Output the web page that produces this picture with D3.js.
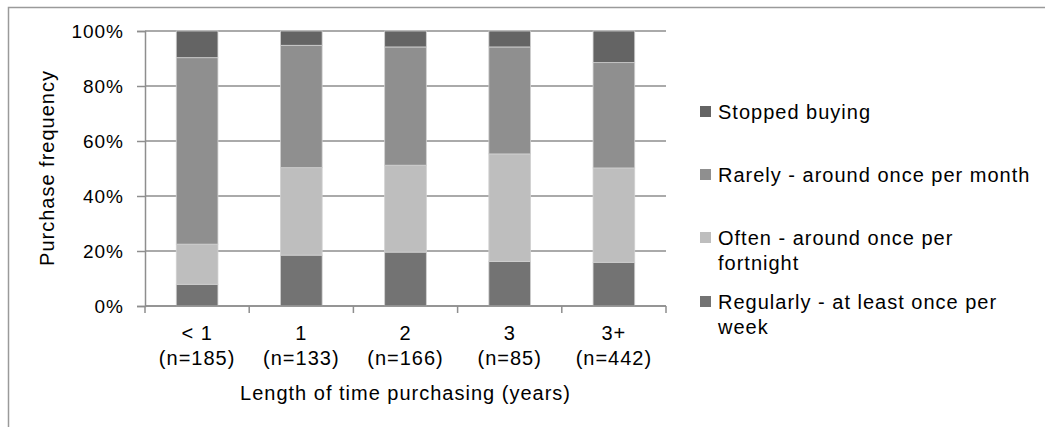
<!DOCTYPE html>
<meta charset="utf-8">
<script src="https://d3js.org/d3.v7.js"></script>
<style>
  body { margin: 0; background: #fff; }
  text { font-family: "Liberation Sans", Arial, sans-serif; fill: #000; letter-spacing: 1px; }
</style>
<div id="my_dataviz"></div>
<script>

// categories and sample sizes
var groups = ["< 1", "1", "2", "3", "3+"];
var sizes = ["(n=185)", "(n=133)", "(n=166)", "(n=85)", "(n=442)"];

// percentages per series (bottom to top)
var regularly = [7.9, 18.5, 19.6, 16.2, 15.9];
var often     = [14.6, 31.8, 31.6, 39.1, 34.3];
var rarely    = [67.8, 44.5, 43.0, 38.9, 38.3];
var stopped   = [9.7, 5.2, 5.8, 5.8, 11.5];

var seriesKeys = ["regularly", "often", "rarely", "stopped"];
var seriesNames = {
  regularly: ["Regularly - at least once per", "week"],
  often: ["Often - around once per", "fortnight"],
  rarely: ["Rarely - around once per month"],
  stopped: ["Stopped buying"]
};
var colors = {regularly: "#737373", often: "#bebebe", rarely: "#8f8f8f", stopped: "#646464"};

var yTicks = [0, 20, 40, 60, 80, 100];

var data = groups.map(function(g, i) {
  return {group: g, regularly: regularly[i], often: often[i], rarely: rarely[i], stopped: stopped[i]};
});

var W = 1045, H = 427;
var margin = {top: 31, left: 145};
var width = 521, height = 275;

var svg = d3.select("#my_dataviz")
  .append("svg")
    .attr("width", W)
    .attr("height", H);

// outer frame
svg.append("rect")
  .attr("x", 8.5).attr("y", 7.5)
  .attr("width", W).attr("height", H)
  .attr("fill", "none")
  .attr("stroke", "#9a9a9a")
  .attr("stroke-width", 1.5);

var g = svg.append("g")
  .attr("transform", "translate(" + margin.left + "," + margin.top + ")");

var x = d3.scaleBand()
  .domain(groups)
  .range([0, width])
  .paddingInner(0.6)
  .paddingOuter(0.3);

var y = d3.scaleLinear()
  .domain([0, 100])
  .range([height, 0]);

// gridlines
g.append("g")
  .selectAll("line")
  .data(yTicks)
  .enter()
  .append("line")
    .attr("x1", 0).attr("x2", width)
    .attr("y1", function(d) { return y(d); })
    .attr("y2", function(d) { return y(d); })
    .attr("stroke", "#8e8e8e")
    .attr("stroke-width", 1.5);

// stacked bars
var stack = d3.stack().keys(seriesKeys);
var layers = stack(data);

g.append("g")
  .selectAll("g")
  .data(layers)
  .enter()
  .append("g")
    .attr("fill", function(d) { return colors[d.key]; })
  .selectAll("rect")
  .data(function(d) { return d; })
  .enter()
  .append("rect")
    .attr("x", function(d) { return x(d.data.group); })
    .attr("y", function(d) { return y(d[1]); })
    .attr("width", x.bandwidth())
    .attr("height", function(d) { return y(d[0]) - y(d[1]); })
    .attr("stroke", "#d0d0d0")
    .attr("stroke-width", 0.8);

// y axis
var yAxis = g.append("g")
  .call(d3.axisLeft(y).tickValues(yTicks).tickSize(8).tickPadding(13)
    .tickFormat(function(d) { return d + "%"; }));
yAxis.select(".domain").attr("stroke", "#8e8e8e").attr("stroke-width", 1.5);
yAxis.selectAll(".tick line").attr("stroke", "#8e8e8e").attr("stroke-width", 1.5);
yAxis.selectAll("text").style("font-size", "19px").attr("fill", "#000")
  .style("font-family", "Liberation Sans, Arial, sans-serif");

// x axis: ticks at band boundaries
var xBounds = d3.range(groups.length + 1).map(function(i) { return i * width / groups.length; });
var xAxisG = g.append("g").attr("transform", "translate(0," + height + ")");
xAxisG.append("line")
  .attr("x1", 0).attr("x2", width)
  .attr("stroke", "#8e8e8e").attr("stroke-width", 1.5);
xAxisG.selectAll(".bt")
  .data(xBounds)
  .enter()
  .append("line")
    .attr("x1", function(d) { return d; })
    .attr("x2", function(d) { return d; })
    .attr("y1", 0).attr("y2", 7)
    .attr("stroke", "#8e8e8e").attr("stroke-width", 1.5);

// category labels
var lab = xAxisG.selectAll(".lab")
  .data(groups)
  .enter()
  .append("text")
    .attr("text-anchor", "middle")
    .style("font-size", "20px");
lab.append("tspan")
  .attr("x", function(d) { return x(d) + x.bandwidth() / 2; })
  .attr("y", 34)
  .text(function(d) { return d; });
lab.append("tspan")
  .attr("x", function(d) { return x(d) + x.bandwidth() / 2; })
  .attr("y", 59)
  .text(function(d, i) { return sizes[i]; });

// axis titles
g.append("text")
  .attr("x", width / 2)
  .attr("y", height + 94)
  .attr("text-anchor", "middle")
  .style("font-size", "20px")
  .text("Length of time purchasing (years)");

svg.append("text")
  .attr("transform", "translate(" + 54 + "," + 168 + ") rotate(-90)")
  .attr("text-anchor", "middle")
  .style("font-size", "20px")
  .text("Purchase frequency");

// legend (top to bottom: stopped, rarely, often, regularly)
var legendOrder = ["stopped", "rarely", "often", "regularly"];
var legendY = [112, 175, 238, 302];
var legend = svg.append("g")
  .selectAll("g")
  .data(legendOrder)
  .enter()
  .append("g")
    .attr("transform", function(d, i) { return "translate(700," + legendY[i] + ")"; });
legend.append("rect")
  .attr("x", 0).attr("y", -6)
  .attr("width", 11).attr("height", 11)
  .attr("fill", function(d) { return colors[d]; });
legend.append("text")
  .style("font-size", "20px")
  .attr("x", 18)
  .attr("y", 0)
  .selectAll("tspan")
  .data(function(d) { return seriesNames[d]; })
  .enter()
  .append("tspan")
    .attr("x", 18)
    .attr("dy", function(d, i) { return i === 0 ? "0.35em" : "25px"; })
    .text(function(d) { return d; });

</script>
